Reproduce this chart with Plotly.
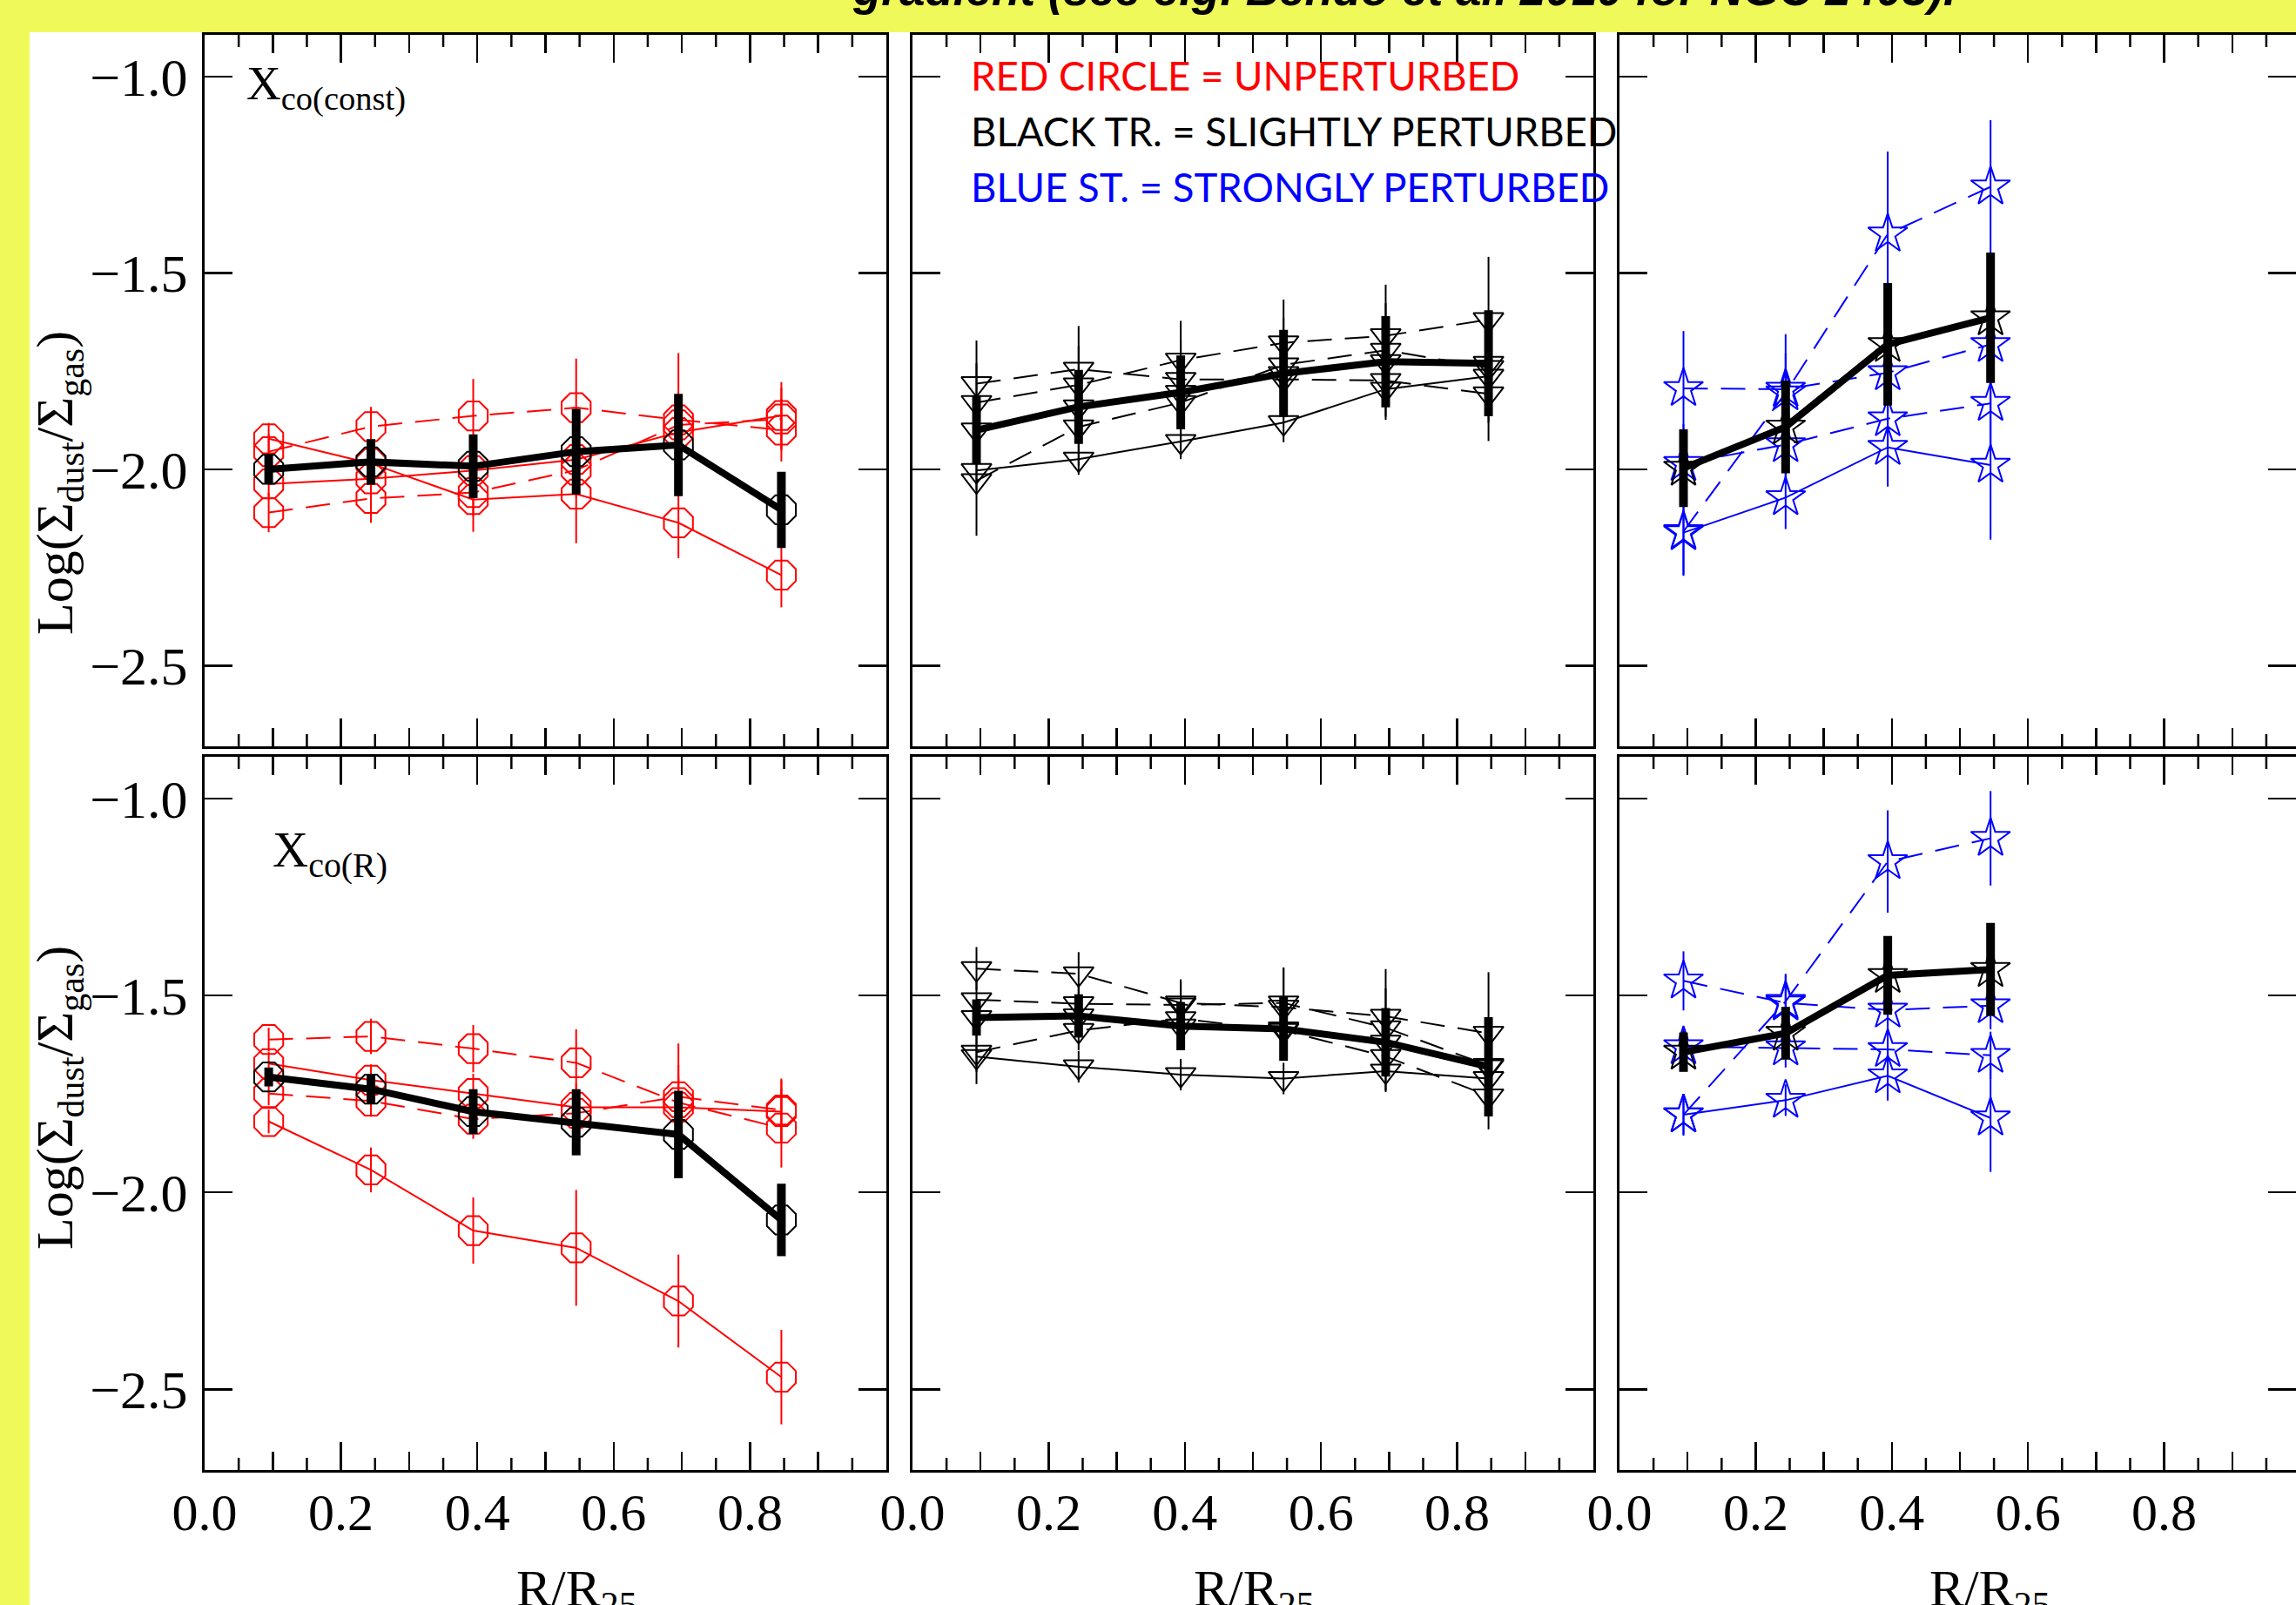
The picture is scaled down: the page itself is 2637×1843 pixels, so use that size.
import plotly.graph_objects as go

W, H = 2637, 1843

# ---------------- data ----------------
R6 = [0.094, 0.244, 0.394, 0.545, 0.695, 0.846]
R4 = [0.094, 0.244, 0.394, 0.545]

# Top-left: Xco(const), unperturbed (red circles)
tl_s1 = [-1.922, -1.985, -2.077, -2.063, -2.136, -2.269]
tl_s1_err = [0.040, 0.050, 0.082, 0.125, 0.090, 0.082]
tl_s2 = [-2.037, -2.024, -2.003, -1.975, -1.906, -1.863]
tl_s2_err = [0.040, 0.040, 0.050, 0.060, 0.070, 0.085]
tl_d1 = [-1.955, -1.891, -1.864, -1.843, -1.874, -1.900]
tl_d1_err = [0.045, 0.050, 0.094, 0.125, 0.170, 0.080]
tl_d2 = [-2.110, -2.074, -2.059, -2.002, -1.887, -1.872]
tl_d2_err = [0.050, 0.062, 0.060, 0.070, 0.080, 0.080]
tl_mean = [-2.000, -1.981, -1.992, -1.955, -1.938, -2.103]
tl_mean_err = [0.038, 0.058, 0.081, 0.109, 0.130, 0.097]

# Top-middle: Xco(const), slightly perturbed (black triangles)
tm_s1 = [-2.003, -1.974, -1.929, -1.881, -1.796, -1.763]
tm_s1_err = [0.050, 0.040, 0.045, 0.050, 0.070, 0.100]
tm_d1 = [-1.782, -1.745, -1.771, -1.771, -1.774, -1.808]
tm_d1_err = [0.110, 0.110, 0.100, 0.100, 0.100, 0.120]
tm_d2 = [-2.029, -1.892, -1.830, -1.734, -1.697, -1.741]
tm_d2_err = [0.140, 0.100, 0.100, 0.120, 0.120, 0.140]
tm_d3 = [-1.830, -1.785, -1.722, -1.678, -1.660, -1.619]
tm_d3_err = [0.100, 0.100, 0.100, 0.110, 0.130, 0.160]
tm_mean = [-1.900, -1.841, -1.804, -1.756, -1.726, -1.730]
tm_mean_err = [0.087, 0.094, 0.094, 0.111, 0.116, 0.135]

# Top-right: Xco(const), strongly perturbed (blue stars)
tr_s1 = [-2.161, -2.072, -1.944, -1.989]
tr_s1_err = [0.110, 0.080, 0.100, 0.190]
tr_d1 = [-2.158, -1.805, -1.401, -1.281]
tr_d1_err = [0.110, 0.100, 0.210, 0.170]
tr_d2 = [-1.794, -1.796, -1.754, -1.682]
tr_d2_err = [0.146, 0.140, 0.100, 0.100]
tr_d3 = [-1.985, -1.937, -1.871, -1.832]
tr_d3_err = [0.100, 0.100, 0.100, 0.120]
tr_mean = [-1.997, -1.892, -1.682, -1.614]
tr_mean_err = [0.099, 0.118, 0.156, 0.166]

# Bottom-left: Xco(R), unperturbed
bl_s1 = [-1.820, -1.943, -2.097, -2.141, -2.276, -2.469]
bl_s1_err = [0.030, 0.057, 0.084, 0.147, 0.118, 0.120]
bl_s2 = [-1.673, -1.715, -1.749, -1.784, -1.784, -1.795]
bl_s2_err = [0.030, 0.040, 0.050, 0.060, 0.080, 0.080]
bl_d1 = [-1.612, -1.604, -1.635, -1.671, -1.772, -1.837]
bl_d1_err = [0.030, 0.045, 0.060, 0.085, 0.150, 0.100]
bl_d2 = [-1.749, -1.768, -1.814, -1.799, -1.757, -1.791]
bl_d2_err = [0.030, 0.040, 0.050, 0.060, 0.080, 0.080]
bl_mean = [-1.707, -1.738, -1.795, -1.822, -1.853, -2.070]
bl_mean_err = [0.024, 0.036, 0.057, 0.084, 0.111, 0.092]

# Bottom-middle: Xco(R), slightly perturbed
bm_s1 = [-1.655, -1.681, -1.701, -1.711, -1.692, -1.711]
bm_s1_err = [0.070, 0.040, 0.040, 0.040, 0.050, 0.050]
bm_d1 = [-1.432, -1.445, -1.519, -1.530, -1.553, -1.596]
bm_d1_err = [0.055, 0.055, 0.060, 0.100, 0.120, 0.155]
bm_d2 = [-1.511, -1.521, -1.524, -1.519, -1.582, -1.678]
bm_d2_err = [0.050, 0.050, 0.060, 0.090, 0.100, 0.100]
bm_d3 = [-1.644, -1.589, -1.559, -1.589, -1.655, -1.755]
bm_d3_err = [0.050, 0.050, 0.050, 0.060, 0.090, 0.085]
bm_mean = [-1.556, -1.552, -1.578, -1.585, -1.619, -1.681]
bm_mean_err = [0.046, 0.055, 0.061, 0.081, 0.087, 0.126]

# Bottom-right: Xco(R), strongly perturbed
br_s1 = [-1.803, -1.766, -1.704, -1.811]
br_s1_err = [0.053, 0.040, 0.063, 0.137]
br_d1 = [-1.803, -1.515, -1.160, -1.101]
br_d1_err = [0.050, 0.070, 0.130, 0.120]
br_d2 = [-1.463, -1.519, -1.537, -1.526]
br_d2_err = [0.075, 0.070, 0.060, 0.060]
br_d3 = [-1.630, -1.633, -1.637, -1.652]
br_d3_err = [0.050, 0.050, 0.050, 0.060]
br_mean = [-1.644, -1.596, -1.449, -1.434]
br_mean_err = [0.050, 0.067, 0.100, 0.118]

x_tick_vals = [0.0, 0.2, 0.4, 0.6, 0.8]
x_tick_text = ["0.0", "0.2", "0.4", "0.6", "0.8"]
x_mid_ticks = [0.1, 0.3, 0.5, 0.7, 0.9]
x_small_ticks = [0.05, 0.15, 0.25, 0.35, 0.45, 0.55, 0.65, 0.75, 0.85, 0.95]
y_tick_vals = [-2.5, -2.0, -1.5, -1.0]

# ---------------- styling ----------------
RED, BLUE, BLACK = "#ff0000", "#0000ff", "#000000"
YELLOW = "#f0f95a"
SERIF = "Liberation Serif"
DASH = "28px,15px"

def px(x):
    return x / W

def py(y):
    return 1 - y / H

X_DOM = [[235 / W, 1018 / W], [1048 / W, 1830 / W], [1860 / W, 1.0]]
X_RANGE = [[0, 1.0], [0, 1.0], [0, 777 / 782]]
Y_DOM = [[py(857), py(40)], [py(1688), py(869)]]
Y_RANGE = [-2.705, -0.894]

def ax_ids(k):
    return ("x" if k == 1 else f"x{k}"), ("y" if k == 1 else f"y{k}")

SYM = {"red": ("octagon-open", 36), "tri": ("triangle-down-open", 30), "star": ("star-open", 34)}

def thin(k, xs, ys, errs, color, dash, sym):
    xa, ya = ax_ids(k)
    s, sz = SYM[sym]
    return go.Scatter(
        x=xs, y=ys, xaxis=xa, yaxis=ya, mode="lines+markers",
        line=dict(color=color, width=2, dash=dash),
        marker=dict(symbol=s, size=sz, color=color, line=dict(color=color, width=2)),
        error_y=dict(type="data", array=errs, visible=True, color=color, thickness=2, width=0),
        showlegend=False, hoverinfo="skip", cliponaxis=False)

def mean(k, xs, ys, errs, sym):
    xa, ya = ax_ids(k)
    s, sz = SYM[sym]
    return go.Scatter(
        x=xs, y=ys, xaxis=xa, yaxis=ya, mode="lines+markers",
        line=dict(color=BLACK, width=8),
        marker=dict(symbol=s, size=sz, color=BLACK, line=dict(color=BLACK, width=2)),
        error_y=dict(type="data", array=errs, visible=True, color=BLACK, thickness=10, width=0),
        showlegend=False, hoverinfo="skip", cliponaxis=False)

traces = [
    thin(1, R6, tl_s1, tl_s1_err, RED, "solid", "red"),
    thin(1, R6, tl_s2, tl_s2_err, RED, "solid", "red"),
    thin(1, R6, tl_d1, tl_d1_err, RED, DASH, "red"),
    thin(1, R6, tl_d2, tl_d2_err, RED, DASH, "red"),
    mean(1, R6, tl_mean, tl_mean_err, "red"),
    thin(2, R6, tm_s1, tm_s1_err, BLACK, "solid", "tri"),
    thin(2, R6, tm_d1, tm_d1_err, BLACK, DASH, "tri"),
    thin(2, R6, tm_d2, tm_d2_err, BLACK, DASH, "tri"),
    thin(2, R6, tm_d3, tm_d3_err, BLACK, DASH, "tri"),
    mean(2, R6, tm_mean, tm_mean_err, "tri"),
    thin(3, R4, tr_s1, tr_s1_err, BLUE, "solid", "star"),
    thin(3, R4, tr_d1, tr_d1_err, BLUE, DASH, "star"),
    thin(3, R4, tr_d2, tr_d2_err, BLUE, DASH, "star"),
    thin(3, R4, tr_d3, tr_d3_err, BLUE, DASH, "star"),
    mean(3, R4, tr_mean, tr_mean_err, "star"),
    thin(4, R6, bl_s1, bl_s1_err, RED, "solid", "red"),
    thin(4, R6, bl_s2, bl_s2_err, RED, "solid", "red"),
    thin(4, R6, bl_d1, bl_d1_err, RED, DASH, "red"),
    thin(4, R6, bl_d2, bl_d2_err, RED, DASH, "red"),
    mean(4, R6, bl_mean, bl_mean_err, "red"),
    thin(5, R6, bm_s1, bm_s1_err, BLACK, "solid", "tri"),
    thin(5, R6, bm_d1, bm_d1_err, BLACK, DASH, "tri"),
    thin(5, R6, bm_d2, bm_d2_err, BLACK, DASH, "tri"),
    thin(5, R6, bm_d3, bm_d3_err, BLACK, DASH, "tri"),
    mean(5, R6, bm_mean, bm_mean_err, "tri"),
    thin(6, R4, br_s1, br_s1_err, BLUE, "solid", "star"),
    thin(6, R4, br_d1, br_d1_err, BLUE, DASH, "star"),
    thin(6, R4, br_d2, br_d2_err, BLUE, DASH, "star"),
    thin(6, R4, br_d3, br_d3_err, BLUE, DASH, "star"),
    mean(6, R4, br_mean, br_mean_err, "star"),
]

fig = go.Figure(traces)

layout = dict(
    template="none",
    width=W, height=H, margin=dict(l=0, r=0, t=0, b=0, pad=0, autoexpand=False),
    paper_bgcolor=YELLOW, plot_bgcolor="white", showlegend=False,
)

XTICKFONT = dict(family=SERIF, size=60, color=BLACK)
YTICKFONT = dict(family=SERIF, size=62, color=BLACK)
shapes = [dict(type="rect", xref="paper", yref="paper", x0=34 / W, x1=1.0, y0=0, y1=py(37),
               fillcolor="white", line=dict(width=0), layer="below")]
SMALL = 14 / 817

for k in range(1, 7):
    col, row = (k - 1) % 3, (k - 1) // 3
    xa, ya = ax_ids(k)
    xkey = "xaxis" if k == 1 else f"xaxis{k}"
    ykey = "yaxis" if k == 1 else f"yaxis{k}"
    layout[xkey] = dict(
        domain=X_DOM[col], range=X_RANGE[col], anchor=ya, automargin=False,
        tickmode="array", tickvals=x_tick_vals, ticktext=x_tick_text, showticklabels=(row == 1),
        ticks="inside", ticklen=32, tickwidth=2.5, tickcolor=BLACK,
        minor=dict(tickvals=x_mid_ticks, ticks="inside", ticklen=21, tickwidth=2.5, tickcolor=BLACK, showgrid=False),
        showline=True, linewidth=3, linecolor=BLACK, mirror="ticks",
        showgrid=False, zeroline=False, tickfont=XTICKFONT, ticklabelstandoff=-6,
    )
    layout[ykey] = dict(
        domain=Y_DOM[row], range=Y_RANGE, anchor=xa, automargin=False,
        tickmode="array", tickvals=y_tick_vals, tickformat=".1f", showticklabels=(col == 0),
        ticks="inside", ticklen=32, tickwidth=2.5, tickcolor=BLACK,
        showline=True, linewidth=3, linecolor=BLACK, mirror="ticks",
        showgrid=False, zeroline=False, tickfont=YTICKFONT, ticklabelstandoff=4,
    )
    for v in x_small_ticks:
        for (a, b) in [(0, SMALL), (1 - SMALL, 1)]:
            shapes.append(dict(type="line", xref=xa, yref=f"{ya} domain", x0=v, x1=v, y0=a, y1=b,
                               line=dict(color=BLACK, width=2.5)))

layout["shapes"] = shapes

ytitle = "Log(Σ<sub>dust</sub>/Σ<sub>gas</sub>)"
xtitle = "R/R<sub>25</sub>"
ann = [
    dict(text=ytitle, x=px(67), y=py(555), textangle=-90, font=dict(family=SERIF, size=60, color=BLACK)),
    dict(text=ytitle, x=px(67), y=py(1261), textangle=-90, font=dict(family=SERIF, size=60, color=BLACK)),
    dict(text="X<sub>co(const)</sub>", x=px(281), y=py(100), xanchor="left", font=dict(family=SERIF, size=55, color=BLACK)),
    dict(text="X<sub>co(R)</sub>", x=px(311), y=py(980), xanchor="left", font=dict(family=SERIF, size=57, color=BLACK)),
    dict(text="RED CIRCLE = UNPERTURBED", x=px(1113), y=py(86), xanchor="left", font=dict(family="Lato", size=45.5, color=RED)),
    dict(text="BLACK TR. = SLIGHTLY PERTURBED", x=px(1113), y=py(150), xanchor="left", font=dict(family="Lato", size=45.5, color=BLACK)),
    dict(text="BLUE ST. = STRONGLY PERTURBED", x=px(1113), y=py(214), xanchor="left", font=dict(family="Lato", size=45.5, color=BLUE)),
    dict(text=xtitle, x=px(662), y=py(1828), font=dict(family=SERIF, size=60, color=BLACK)),
    dict(text=xtitle, x=px(1440), y=py(1828), font=dict(family=SERIF, size=60, color=BLACK)),
    dict(text=xtitle, x=px(2285), y=py(1828), font=dict(family=SERIF, size=60, color=BLACK)),
    dict(text="<b><i>gradient (see e.g. Bendo et al. 2010 for NGC 2403).</i></b>", x=px(1613), y=py(-12),
         font=dict(family="Liberation Sans", size=53, color=BLACK)),
]
for a in ann:
    a.setdefault("xanchor", "center")
    a.setdefault("yanchor", "middle")
    a.update(xref="paper", yref="paper", showarrow=False)
layout["annotations"] = ann

fig.update_layout(**layout)
fig.write_html(
    "out.html",
    config={"displayModeBar": False, "staticPlot": True},
    post_script="document.body.style.margin='0';document.body.style.padding='0';"
                "document.documentElement.style.overflow='hidden';document.body.style.overflow='hidden';",
)
